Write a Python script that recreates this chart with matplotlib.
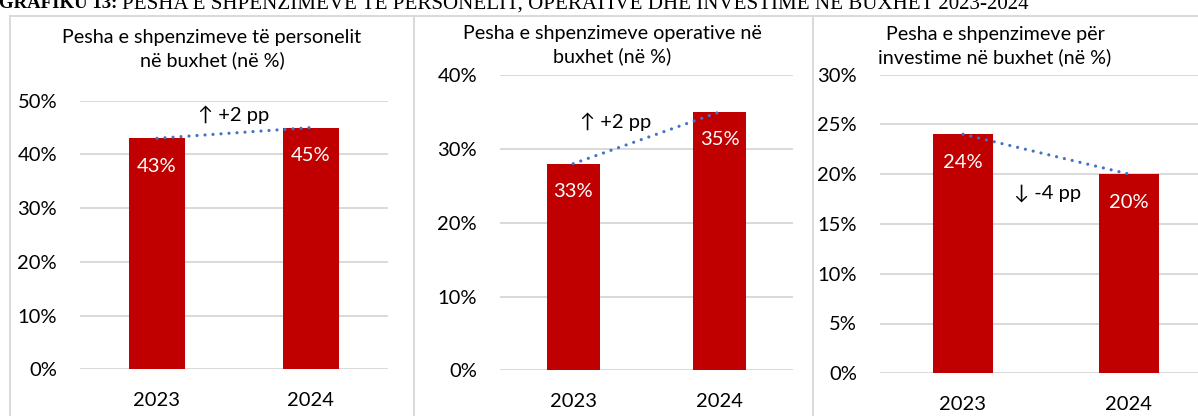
import matplotlib
matplotlib.use('Agg')
import matplotlib.pyplot as plt
from matplotlib.ticker import FuncFormatter
from matplotlib.lines import Line2D

plt.rcParams['font.family'] = ['Lato', 'DejaVu Sans']

# data
years = ['2023', '2024']
personel = [43, 45]
operative = [28, 35]
investime = [24, 20]
personel_labels = ['43%', '45%']
operative_labels = ['33%', '35%']
investime_labels = ['24%', '20%']
titles = ['Pesha e shpenzimeve të personelit\nnë buxhet (në %)',
          'Pesha e shpenzimeve operative në\nbuxhet (në %)',
          'Pesha e shpenzimeve për\ninvestime në buxhet (në %)']
changes = ['↑ +2 pp', '↑ +2 pp', '↓ -4 pp']
heading_bold = 'GRAFIKU 13: '
heading_rest = 'PESHA E SHPENZIMEVE TË PERSONELIT, OPERATIVE DHE INVESTIME NË BUXHET 2023-2024'

W, H = 1198, 416
RED = '#C00000'
BLUE = '#4472C4'
GRID = '#D9D9D9'

fig = plt.figure(figsize=(W / 100, H / 100), dpi=100)


def px_box(left, right, top, bottom):
    return [left / W, 1 - bottom / H, (right - left) / W, (bottom - top) / H]


panels = [
    dict(vals=personel, labs=personel_labels, ymax=50, step=10,
         box=(80, 388, 100.7, 369.3), title_xy=(212, 49.5), note_xy=(0.5, 47.4)),
    dict(vals=operative, labs=operative_labels, ymax=40, step=10,
         box=(500, 792.7, 75.1, 370.3), title_xy=(612, 45.5), note_xy=(0.29, 33.7)),
    dict(vals=investime, labs=investime_labels, ymax=30, step=5,
         box=(880, 1212, 74.5, 373.3), title_xy=(995, 46.5), note_xy=(0.51, 18.1)),
]

for i, p in enumerate(panels):
    ax = fig.add_axes(px_box(*p['box']))
    x = range(len(years))
    ax.bar(x, p['vals'], width=0.36, color=RED, zorder=3)
    ax.plot(x, p['vals'], color=BLUE, lw=2.3, linestyle=(0, (0.01, 2.5)),
            dash_capstyle='round', zorder=4)
    for xi, v, lab in zip(x, p['vals'], p['labs']):
        ax.annotate(lab, (xi, v), xytext=(0, -28), textcoords='offset pixels',
                    ha='center', va='center', color='white', fontsize=14.5, zorder=5)
    ax.text(p['note_xy'][0], p['note_xy'][1], changes[i], ha='center', va='center',
            fontsize=14.5, color='black', zorder=5)
    ax.set_xlim(-0.5, 1.5)
    ax.set_ylim(0, p['ymax'])
    ax.set_yticks(range(0, p['ymax'] + 1, p['step']))
    ax.yaxis.set_major_formatter(FuncFormatter(lambda v, pos: f'{v:.0f}%'))
    ax.set_xticks(list(x))
    ax.set_xticklabels(years)
    ax.tick_params(length=0, labelsize=14.5, colors='black')
    ax.tick_params(axis='y', pad=16.5)
    ax.tick_params(axis='x', pad=16)
    ax.grid(axis='y', color=GRID, lw=1.4, zorder=0)
    for s in ax.spines.values():
        s.set_visible(False)
    ax.patch.set_alpha(0)
    fig.text(p['title_xy'][0] / W, 1 - p['title_xy'][1] / H, titles[i],
             ha='center', va='center', fontsize=14.2, linespacing=1.35)

# panel frames
for xb in (9.5, 414, 813):
    fig.add_artist(Line2D([xb / W, xb / W], [0, 1 - 15.5 / H], color=GRID, lw=1.4))
fig.add_artist(Line2D([9.5 / W, 1], [1 - 15.5 / H, 1 - 15.5 / H], color=GRID, lw=1.4))

# clipped heading above the charts
t = fig.text(-1 / W, 1 - 8.5 / H, heading_bold, fontsize=13.5, fontweight='bold',
             family='Liberation Serif', va='baseline', ha='left')
fig.canvas.draw()
bb = t.get_window_extent()
fig.text(bb.x1 / W, 1 - 8.5 / H, heading_rest, fontsize=15.1,
         family='Liberation Serif', va='baseline', ha='left')

fig.savefig('out.png', dpi=100)
